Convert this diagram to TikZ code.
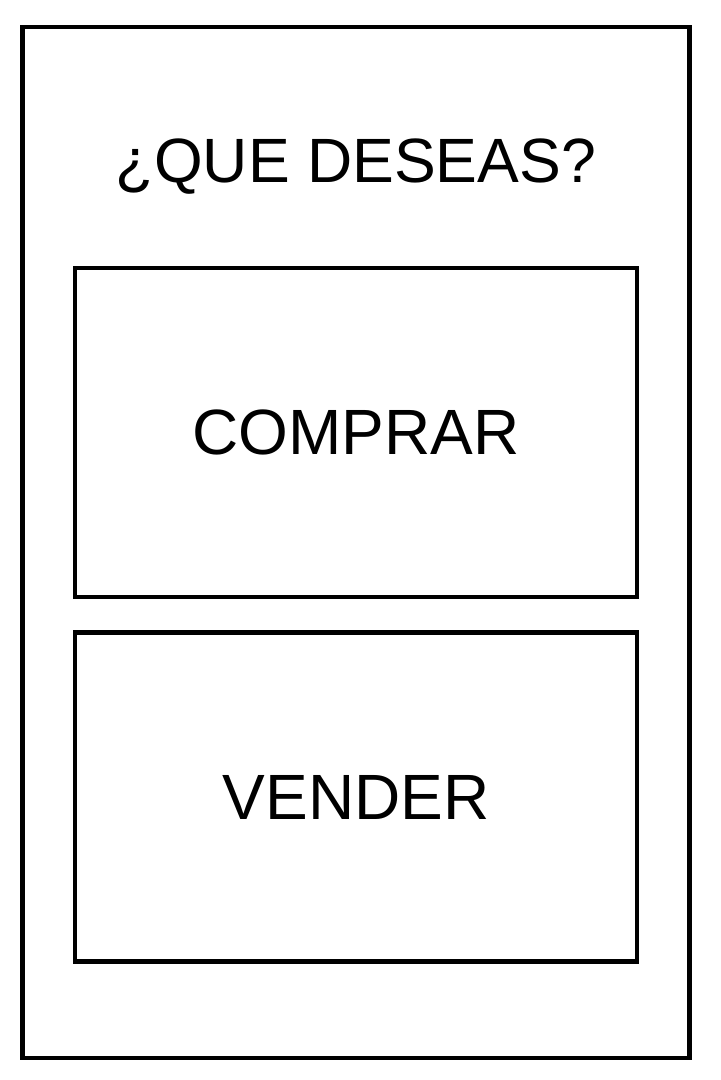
\documentclass[tikz,border=0pt]{standalone}
\usepackage{fontspec}
\setmainfont{Liberation Sans}
\usepackage{tikz}
\usetikzlibrary{positioning}

\tikzset{
  marco/.style={draw=black, line width=2.3pt, minimum width=333.25pt, minimum height=515.5pt, inner sep=0pt},
  opcion/.style={draw=black, line width=2.3pt, minimum width=281pt, minimum height=164.5pt, inner sep=0pt,
    font=\fontsize{32}{38}\selectfont},
  titulo/.style={font=\fontsize{31.3}{38}\selectfont, inner sep=0pt}
}

\begin{document}
\begin{tikzpicture}[x=0.5pt,y=-0.5pt]
\useasboundingbox (0,0) rectangle (720,1080);
\node[marco] (pantalla) at (356,542.5) {};
\node[titulo,anchor=base] (pregunta) at (356,183) {¿QUE DESEAS?};
\node[opcion] (comprar) at (356,432.5) {COMPRAR};
\node[opcion] (vender) at (356,797) {VENDER};
\end{tikzpicture}
\end{document}
